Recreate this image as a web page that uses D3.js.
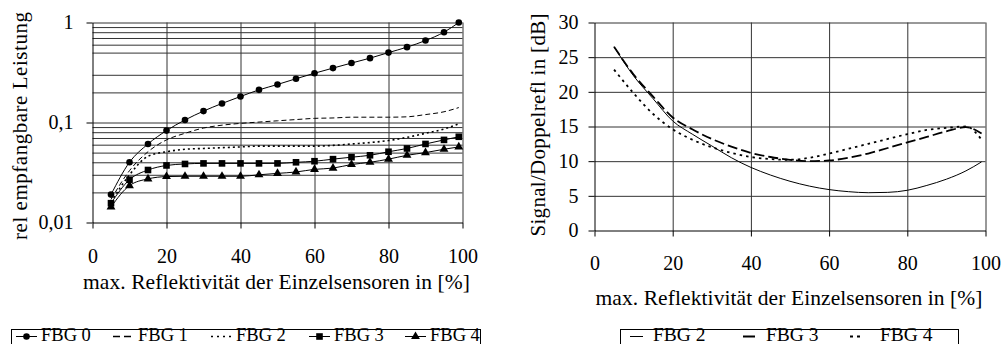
<html>
<head>
<style>
  body { margin: 0; background: #fff; }
  svg { display: block; }
  text { font-family: 'Liberation Serif', 'Times New Roman', serif; fill: #000; }
  .tick text { font-size: 20px; }
  .tick line { stroke: #000; }
  .domain { stroke: #000; }
  .grid line { stroke: #333; stroke-width: 1; }
  .grid .domain { display: none; }
</style>
</head>
<body>
<div id="chart"></div>
<script src="https://d3js.org/d3.v7.min.js"></script>
<script>
// x values (max. Reflektivitaet in %)
const refl = [5,10,15,20,25,30,35,40,45,50,55,60,65,70,75,80,85,90,95,99];

// left chart: rel. empfangbare Leistung
const fbg0 = [0.019,0.040,0.061,0.083,0.106,0.130,0.155,0.182,0.212,0.240,0.274,0.311,0.350,0.393,0.440,0.500,0.567,0.660,0.800,1.0];
const fbg1 = [0.017,0.033,0.051,0.067,0.078,0.088,0.094,0.098,0.101,0.104,0.107,0.110,0.111,0.113,0.113,0.113,0.114,0.120,0.128,0.141];
const fbg2 = [0.016,0.030,0.046,0.051,0.054,0.055,0.056,0.057,0.058,0.058,0.058,0.058,0.059,0.061,0.063,0.066,0.071,0.078,0.086,0.097];
const fbg3 = [0.0156,0.0268,0.0335,0.0372,0.0385,0.039,0.039,0.039,0.039,0.039,0.040,0.041,0.043,0.045,0.047,0.051,0.055,0.061,0.067,0.072];
const fbg4 = [0.0143,0.0234,0.0273,0.0288,0.029,0.029,0.029,0.029,0.030,0.031,0.032,0.034,0.035,0.038,0.040,0.043,0.047,0.050,0.054,0.057];

// right chart: Signal/Doppelrefl. in dB
const snr2 = [26.5,22.3,19.0,15.8,13.9,12.2,10.5,9.1,8.0,7.1,6.4,5.9,5.6,5.45,5.5,5.8,6.5,7.4,8.6,9.9];
const snr3 = [26.5,22.5,19.3,16.3,14.6,13.2,12.1,11.2,10.6,10.2,10.0,10.1,10.5,11.1,11.9,12.7,13.5,14.3,14.9,14.0];
const snr4 = [23.2,19.8,16.8,14.6,13.1,12.0,11.2,10.6,10.3,10.2,10.5,11.1,11.8,12.5,13.2,13.9,14.5,14.8,15.0,13.1];

const xTicks = [0,20,40,60,80,100];
const yTicksLeft = [0.01,0.1,1];
const yTickLabelsLeft = ["0,01","0,1","1"];
const yGridLeft = [0.02,0.03,0.04,0.05,0.06,0.07,0.08,0.09,0.1,0.2,0.3,0.5,0.6,0.7,0.8,0.9,1];
const yTicksRight = [0,5,10,15,20,25,30];

const legendLeft = ["FBG 0","FBG 1","FBG 2","FBG 3","FBG 4"];
const legendRight = ["FBG 2","FBG 3","FBG 4"];

const svg = d3.select("#chart").append("svg")
  .attr("width", 1004).attr("height", 344);

// ---------- left chart ----------
const xL = d3.scaleLinear().domain([0,100]).range([92.5,462.5]);
const yL = d3.scaleLog().domain([0.01,1]).range([222.5,22.5]);

svg.append("g").attr("class","grid")
  .attr("transform","translate(" + xL.range()[0] + ",0)")
  .call(d3.axisLeft(yL).tickValues(yGridLeft).tickSize(-(xL.range()[1]-xL.range()[0])).tickFormat(""));
svg.append("g").attr("class","grid")
  .attr("transform","translate(0," + yL.range()[0] + ")")
  .call(d3.axisBottom(xL).tickValues([20,40,60,80,100]).tickSize(-(yL.range()[0]-yL.range()[1])).tickFormat(""));

svg.append("g")
  .attr("transform","translate(0," + yL.range()[0] + ")")
  .call(d3.axisBottom(xL).tickValues(xTicks).tickSize(6).tickSizeOuter(0).tickPadding(20));
svg.append("g")
  .attr("transform","translate(" + xL.range()[0] + ",0)")
  .call(d3.axisLeft(yL).tickValues(yTicksLeft).tickFormat((d,i) => yTickLabelsLeft[i]).tickSize(6).tickSizeOuter(0).tickPadding(13));

const lineL = d3.line().x((d,i) => xL(refl[i])).y(d => yL(d)).curve(d3.curveMonotoneX);

const leftSeries = [
  {name: "FBG 0", data: fbg0, dash: null, width: 1, marker: "circle"},
  {name: "FBG 1", data: fbg1, dash: "5,3", width: 1, marker: null},
  {name: "FBG 2", data: fbg2, dash: "2,3", width: 1.6, marker: null},
  {name: "FBG 3", data: fbg3, dash: null, width: 1, marker: "square"},
  {name: "FBG 4", data: fbg4, dash: null, width: 1, marker: "triangle"}
];

function marker(g, type, x, y) {
  if (type === "circle") g.append("circle").attr("cx",x).attr("cy",y).attr("r",3.3).attr("fill","#000");
  else if (type === "square") g.append("rect").attr("x",x-3.3).attr("y",y-3.3).attr("width",6.6).attr("height",6.6).attr("fill","#000");
  else if (type === "triangle") g.append("path").attr("d", d3.symbol(d3.symbolTriangle, 34)()).attr("transform","translate(" + x + "," + y + ")").attr("fill","#000");
}

leftSeries.forEach(s => {
  svg.append("path").attr("d", lineL(s.data))
    .attr("fill","none").attr("stroke","#000").attr("stroke-width",s.width)
    .attr("stroke-dasharray", s.dash);
  if (s.marker) {
    const g = svg.append("g");
    s.data.forEach((v,i) => marker(g, s.marker, xL(refl[i]), yL(v)));
  }
});

svg.append("text").attr("transform","translate(27,126) rotate(-90)")
  .attr("text-anchor","middle").style("font-size","21px")
  .attr("textLength", 228).attr("lengthAdjust","spacing")
  .text("rel  empfangbare Leistung");
svg.append("text").attr("x", 276.5).attr("y", 289)
  .attr("text-anchor","middle").style("font-size","21.5px")
  .attr("textLength", 387).attr("lengthAdjust","spacing")
  .text("max. Reflektivität der Einzelsensoren in [%]");

// legend left
svg.append("rect").attr("x",11.5).attr("y",329.5).attr("width",469).attr("height",40)
  .attr("fill","none").attr("stroke","#000").attr("stroke-width",1);
const lgL = [16,113,211,309,405];
leftSeries.forEach((s,i) => {
  const x0 = lgL[i];
  svg.append("line").attr("x1",x0).attr("x2",x0+21).attr("y1",336.5).attr("y2",336.5)
    .attr("stroke","#000").attr("stroke-width", s.dash ? 1.6 : 1).attr("stroke-dasharray", s.dash ? (i === 1 ? "7,4" : "2,4") : null);
  if (s.marker) marker(svg, s.marker, x0+10.5, 336.5);
  svg.append("text").attr("x", x0+25).attr("y", 341).style("font-size","18.5px").text(legendLeft[i]);
});

// ---------- right chart ----------
const xR = d3.scaleLinear().domain([0,100]).range([594.5,985.5]);
const yR = d3.scaleLinear().domain([0,30]).range([230.5,22.5]);

svg.append("g").attr("class","grid")
  .attr("transform","translate(" + xR.range()[0] + ",0)")
  .call(d3.axisLeft(yR).tickValues(yTicksRight.slice(1)).tickSize(-(xR.range()[1]-xR.range()[0])).tickFormat(""));
svg.append("g").attr("class","grid")
  .attr("transform","translate(0," + yR.range()[0] + ")")
  .call(d3.axisBottom(xR).tickValues([20,40,60,80,100]).tickSize(-(yR.range()[0]-yR.range()[1])).tickFormat(""));

svg.append("g")
  .attr("transform","translate(0," + yR.range()[0] + ")")
  .call(d3.axisBottom(xR).tickValues(xTicks).tickSize(6).tickSizeOuter(0).tickPadding(19.5));
svg.append("g")
  .attr("transform","translate(" + xR.range()[0] + ",0)")
  .call(d3.axisLeft(yR).tickValues(yTicksRight).tickSize(6).tickSizeOuter(0).tickPadding(10));

const lineR = d3.line().x((d,i) => xR(refl[i])).y(d => yR(d)).curve(d3.curveMonotoneX);
const rightSeries = [
  {name: "FBG 2", data: snr2, dash: null, width: 1},
  {name: "FBG 3", data: snr3, dash: "10,4", width: 1.8},
  {name: "FBG 4", data: snr4, dash: "2.5,4", width: 1.8}
];
rightSeries.forEach(s => {
  svg.append("path").attr("d", lineR(s.data))
    .attr("fill","none").attr("stroke","#000").attr("stroke-width",s.width)
    .attr("stroke-dasharray", s.dash);
});

svg.append("text").attr("transform","translate(545,125) rotate(-90)")
  .attr("text-anchor","middle").style("font-size","21px")
  .attr("textLength", 223).attr("lengthAdjust","spacing")
  .text("Signal/Doppelrefl  in [dB]");
svg.append("text").attr("x", 789).attr("y", 305)
  .attr("text-anchor","middle").style("font-size","21.5px")
  .attr("textLength", 387).attr("lengthAdjust","spacing")
  .text("max. Reflektivität der Einzelsensoren in [%]");

svg.append("rect").attr("x",620.5).attr("y",329.5).attr("width",338).attr("height",40)
  .attr("fill","none").attr("stroke","#000").attr("stroke-width",1);
const lgR = [630,743,850];
const lgRDash = [null, null, "3,4"];
const lgRLen = [13,12,12];
rightSeries.forEach((s,i) => {
  const x0 = lgR[i];
  svg.append("line").attr("x1",x0).attr("x2",x0+lgRLen[i]).attr("y1",336.5).attr("y2",336.5)
    .attr("stroke","#000").attr("stroke-width", i === 0 ? 1 : 2).attr("stroke-dasharray", lgRDash[i]);
  svg.append("text").attr("x", x0 + (i === 2 ? 30 : 23)).attr("y", 341).style("font-size","19.5px").text(legendRight[i]);
});
</script>
</body>
</html>
